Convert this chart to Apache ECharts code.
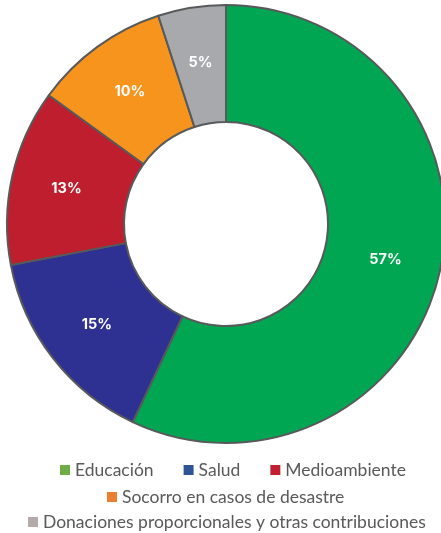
<!DOCTYPE html>
<html>
<head>
<meta charset="utf-8">
<script src="https://cdn.jsdelivr.net/npm/echarts@6/dist/echarts.min.js"></script>
<style>
  html, body { margin: 0; padding: 0; background: #fff; }
  #chart { width: 441px; height: 533px; }
</style>
</head>
<body>
<div id="chart"></div>
<script>
const categories = [
  'Educación',
  'Salud',
  'Medioambiente',
  'Socorro en casos de desastre',
  'Donaciones proporcionales y otras contribuciones',
]
const values = [57, 15, 13, 10, 5]
const sliceColors = ['#00a651', '#2e3192', '#be1e2d', '#f7941d', '#a7a9ac']
const legendColors = ['#70ad47', '#2f5597', '#c0202f', '#ed7d31', '#b3aaaa']
const legendRows = [[0, 1, 2], [3], [4]]

const chart = echarts.init(document.getElementById('chart'))

const legendText = {
  color: '#595959',
  fontSize: 17.5,
  fontFamily: 'Lato',
}

const legendTops = [461, 488, 513]
const legendLefts = [60, 107, 28]

const option = {
  animation: false,
  legend: legendRows.map((row, i) => ({
    top: legendTops[i],
    left: legendLefts[i],
    padding: 0,
    itemWidth: 10,
    itemHeight: 10,
    itemGap: 30,
    icon: 'rect',
    textStyle: legendText,
    data: row.map((idx) => ({
      name: categories[idx],
      itemStyle: { color: legendColors[idx], borderWidth: 0 },
    })),
  })),
  series: [
    {
      type: 'pie',
      center: [226, 224],
      radius: [102, 219],
      startAngle: 90,
      clockwise: true,
      avoidLabelOverlap: false,
      itemStyle: {
        borderColor: '#58595b',
        borderWidth: 2,
      },
      label: {
        show: true,
        position: 'inside',
        formatter: '{c}%',
        color: '#fff',
        fontSize: 14.5,
        fontWeight: 'bold',
        fontFamily: 'Inter',
      },
      labelLine: { show: false },
      emphasis: { disabled: true },
      data: categories.map((name, i) => ({
        name,
        value: values[i],
        itemStyle: { color: sliceColors[i] },
      })),
    },
  ],
}

chart.setOption(option)
</script>
</body>
</html>
